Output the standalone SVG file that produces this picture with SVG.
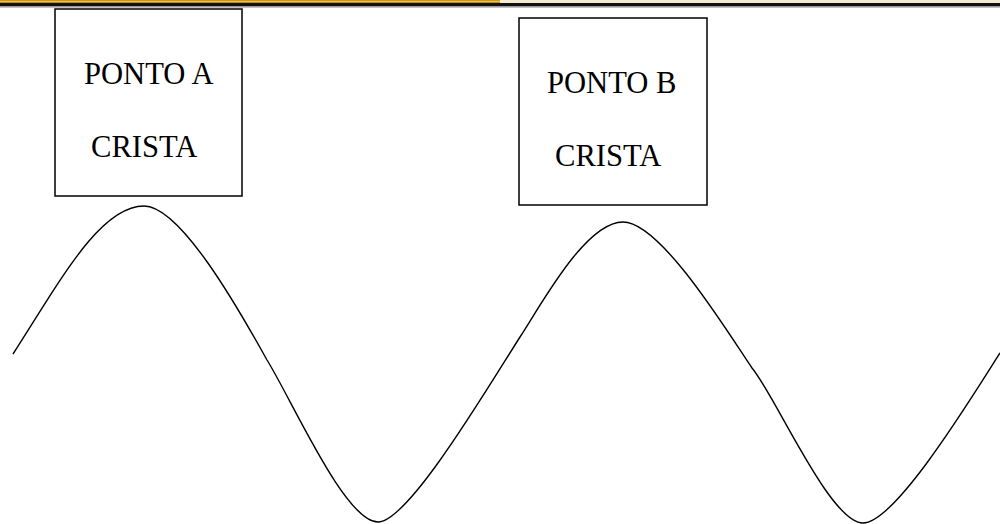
<svg xmlns="http://www.w3.org/2000/svg" width="1000" height="524" viewBox="0 0 1000 524">
<style>
.box{fill:#fff;stroke:#000;stroke-width:1.5}
.lbl{font-family:"Liberation Serif","Times New Roman",serif;font-size:30.6px;fill:#000}
.wave{fill:none;stroke:#000;stroke-width:1.4}
</style>
<defs>
<linearGradient id="gold" x1="0" y1="0" x2="0" y2="1">
<stop offset="0" stop-color="#b8860b"/>
<stop offset="0.5" stop-color="#f0c040"/>
<stop offset="1" stop-color="#a07010"/>
</linearGradient>
</defs>
<rect x="0" y="0" width="1000" height="524" fill="#fff"/>
<g id="topbar">
<rect x="0" y="0" width="500" height="3" fill="url(#gold)"/>
<rect x="500" y="0" width="500" height="3" fill="#f3ecd0"/>
<rect x="0" y="3" width="1000" height="3.5" fill="#111"/>
<rect x="0" y="6.5" width="1000" height="1.2" fill="#aaa"/>
</g>
<g id="nodeA">
<rect class="box" x="55" y="9" width="187" height="187"/>
<text class="lbl" x="84" y="84">PONTO A</text>
<text class="lbl" x="91" y="157">CRISTA</text>
</g>
<g id="nodeB">
<rect class="box" x="519" y="18" width="188" height="187"/>
<text class="lbl" x="547" y="93">PONTO B</text>
<text class="lbl" x="555" y="166">CRISTA</text>
</g>
<g id="connectors">
<path class="wave" d="M13,354 C60,281 100,206 144,206 C180,206 237,306 267,360 C292,400 345,522 378,522 C408,522 485,392 520,337 C540,307 585,222 623,222 C660,222 725,328 752,368 C775,395 830,523 863,523 C895,523 970,400 1000,353"/>
</g>
</svg>
